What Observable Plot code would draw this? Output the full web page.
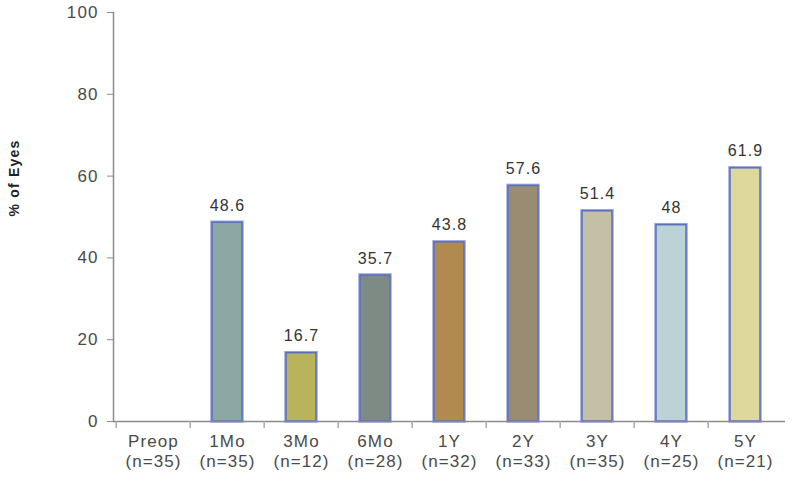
<!DOCTYPE html>
<html>
<head>
<meta charset="utf-8">
<script src="https://cdn.jsdelivr.net/npm/d3@7"></script>
<script src="https://cdn.jsdelivr.net/npm/@observablehq/plot@0.6"></script>
<style>
  html, body { margin: 0; padding: 0; background: #fff; }
  #chart { position: relative; width: 800px; height: 484px; }
  #ylabel {
    position: absolute; left: 14px; top: 178px;
    transform: translate(-50%, -50%) rotate(-90deg);
    font: bold 14px "Liberation Sans", Arial, sans-serif; letter-spacing: 1.2px; color: #222; white-space: nowrap;
  }
  svg text { letter-spacing: 1.1px; }
</style>
</head>
<body>
<div id="chart"><div id="ylabel">% of Eyes</div></div>
<script>
const categories = ["Preop", "1Mo", "3Mo", "6Mo", "1Y", "2Y", "3Y", "4Y", "5Y"];
const counts = [35, 35, 12, 28, 32, 33, 35, 25, 21];
const values = [null, 48.6, 16.7, 35.7, 43.8, 57.6, 51.4, 48, 61.9];
const valueLabels = ["", "48.6", "16.7", "35.7", "43.8", "57.6", "51.4", "48", "61.9"];
const colors = ["#ffffff", "#8ba8a4", "#b9b35b", "#7e8b84", "#b08a4e", "#9a8b73", "#c3c0a6", "#bcd3d5", "#ddd99d"];
const yTicks = [0, 20, 40, 60, 80, 100];

const data = categories.map((c, i) => ({cat: c, n: counts[i], v: values[i], label: valueLabels[i], color: colors[i]}));
const bars = data.filter(d => d.v != null);
const tickLabel = new Map(categories.map((c, i) => [c, `${c}\n(n=${counts[i]})`]));

const width = 800, height = 484, mL = 113, mR = 15;
const nCat = categories.length, pIn = 0.6, pOut = 0.3;
const step = (width - mL - mR) / (nCat - pIn + 2 * pOut);

const chart = Plot.plot({
  width, height,
  marginLeft: mL, marginRight: mR, marginTop: 12, marginBottom: 63,
  style: {fontFamily: "'Liberation Sans', Arial, sans-serif", background: "#fff"},
  x: {domain: categories, paddingInner: pIn, paddingOuter: pOut, label: null},
  y: {domain: [0, 100], label: null},
  marks: [
    Plot.barY(bars, {x: "cat", y: "v", fill: "color", stroke: "#9aa6dc", strokeWidth: 3.5}),
    Plot.barY(bars, {x: "cat", y: "v", fill: "color", stroke: "#5b6fbf", strokeWidth: 1.5}),
    Plot.text(bars, {x: "cat", y: "v", text: "label", dy: -17, fontSize: 16, fill: "#333"}),
    Plot.ruleY([0], {stroke: "#8a8a8a", strokeWidth: 1.5}),
    Plot.frame({anchor: "left", stroke: "#8a8a8a", strokeWidth: 1.5}),
    Plot.ruleX(categories, {x: d => d, dx: -step / 2, y1: 0, y2: -1.7, stroke: "#aaa", strokeWidth: 1.5}),
    Plot.axisY({ticks: yTicks, tickSize: 6, tickPadding: 9, fontSize: 17, stroke: "#8a8a8a", fill: "#4a4a4a", label: null}),
    Plot.axisX({tickSize: 0, tickPadding: 11, fontSize: 17, fill: "#4a4a4a", tickFormat: d => tickLabel.get(d), lineHeight: 1.2, label: null})
  ]
});
document.getElementById("chart").prepend(chart);
</script>
</body>
</html>
